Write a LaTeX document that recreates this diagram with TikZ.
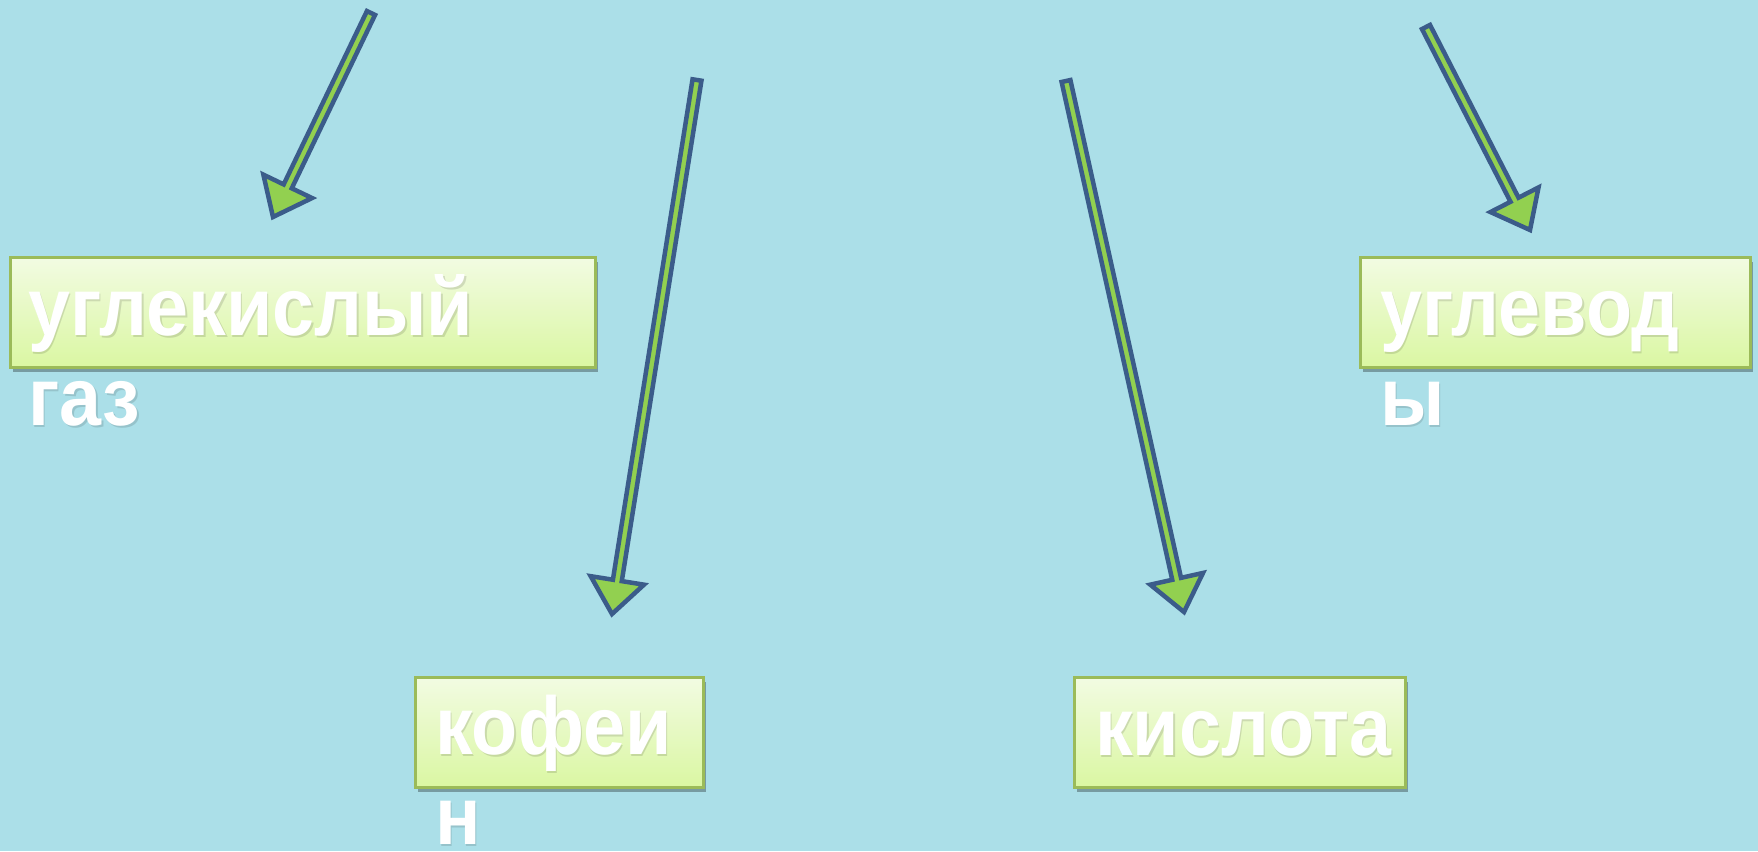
\documentclass[tikz,border=0pt]{standalone}
\usepackage{fontspec}
\setmainfont{Liberation Sans}
\newfontfamily\termfont[FakeStretch=0.92]{Liberation Sans}
\usetikzlibrary{calc,shadows}
\definecolor{water}{HTML}{ABDFE8}
\definecolor{arrowfill}{HTML}{92D050}
\definecolor{arrowline}{HTML}{3B5C8A}
\definecolor{boxline}{HTML}{9BBB59}
\definecolor{boxtop}{HTML}{F2FBE2}
\definecolor{boxbottom}{HTML}{DAF7A2}
\tikzset{
  termbox/.style={draw=boxline, line width=3pt, top color=boxtop, bottom color=boxbottom,
    minimum width=#1, minimum height=110pt, inner sep=0pt, anchor=north west,
    drop shadow={shadow xshift=2pt, shadow yshift=-4pt, opacity=0.3, fill=black}},
  termtext/.style={text=white, font=\termfont\fontsize{82}{90}\selectfont\bfseries,
    align=left, anchor=base west, inner sep=0pt},
  termshadow/.style={termtext, text=black, opacity=0.12},
}
\newcommand\fatarrow[2]{%
\filldraw[fill=arrowfill, draw=arrowline, line width=4.5pt, line join=miter]
  ($(#1)!4.5pt!90:(#2)$) -- ($(#2)!34pt!(#1)!4.5pt!90:(#2)$)
  -- ($(#2)!34pt!(#1)!27pt!90:(#2)$) -- (#2)
  -- ($(#2)!34pt!(#1)!27pt!-90:(#2)$) -- ($(#2)!34pt!(#1)!4.5pt!-90:(#2)$)
  -- ($(#1)!4.5pt!-90:(#2)$) -- cycle;}
\begin{document}
\begin{tikzpicture}[x=1pt,y=-1pt]
\useasboundingbox (0,0) rectangle (1758,851);
\fill[water] (0,0) rectangle (1758,851);
%boxes
\node[termbox=585pt] (co2) at (9,256) {};
\node[termbox=288pt] (caf) at (414,676) {};
\node[termbox=331pt] (acid) at (1073,676) {};
\node[termbox=390pt] (carb) at (1359,256) {};
% base of a two line text is its last line
\node[termshadow] (co2shadow) at ([shift={(20.5,171)}]co2.north west) {углекислый\\газ};
\node[termshadow] (cafshadow) at ([shift={(22.5,170)}]caf.north west) {кофеи\\н};
\node[termshadow] (acidshadow) at ([shift={(23.5,81)}]acid.north west) {кислота};
\node[termshadow] (carbshadow) at ([shift={(22.5,171)}]carb.north west) {углевод\\ы};
\node[termtext] (co2text) at ([shift={(19,169.5)}]co2.north west) {углекислый\\газ};
\node[termtext] (caftext) at ([shift={(21,168.5)}]caf.north west) {кофеи\\н};
\node[termtext] (acidtext) at ([shift={(22,79.5)}]acid.north west) {кислота};
\node[termtext] (carbtext) at ([shift={(21,169.5)}]carb.north west) {углевод\\ы};
%arrows
\coordinate (a1s) at (371,13);
\coordinate (a1t) at (273,217);
\coordinate (a2s) at (697,80);
\coordinate (a2t) at (612,614);
\coordinate (a3s) at (1066,81);
\coordinate (a3t) at (1184,612);
\coordinate (a4s) at (1426,27);
\coordinate (a4t) at (1530,230);
\fatarrow{a1s}{a1t}
\fatarrow{a2s}{a2t}
\fatarrow{a3s}{a3t}
\fatarrow{a4s}{a4t}
\end{tikzpicture}
\end{document}
